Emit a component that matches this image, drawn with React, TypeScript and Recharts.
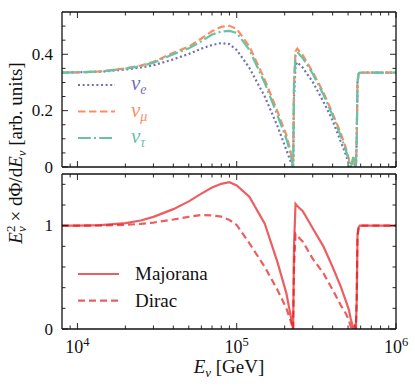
import { LineChart, Line, XAxis, YAxis, Legend } from 'recharts'

// energies in GeV (log axis)
const energies = [8000, 10000, 14000, 20000, 25000, 30000, 40000, 50000, 60000, 70000, 80000, 90000, 100000, 120000, 150000, 180000, 205000, 218000, 226000, 229000, 234000, 240000, 260000, 300000, 350000, 400000, 450000, 480000, 505000, 520000, 540000, 552000, 560000, 567000, 573000, 582000, 592000, 700000, 1000000]

// top panel: flux per flavour
const nuE = [0.335, 0.336, 0.338, 0.346, 0.353, 0.361, 0.382, 0.401, 0.42, 0.433, 0.44, 0.436, 0.415, 0.352, 0.25, 0.146, 0.06, 0.02, 0, 0.25, 0.36, 0.372, 0.352, 0.302, 0.232, 0.165, 0.09, 0.05, 0.012, 0, 0.035, 0.005, 0, 0.1, 0.3, 0.33, 0.335, 0.335, 0.335]
const nuMu = [0.335, 0.336, 0.339, 0.35, 0.36, 0.373, 0.405, 0.427, 0.456, 0.482, 0.497, 0.501, 0.49, 0.428, 0.31, 0.198, 0.113, 0.055, 0, 0.3, 0.41, 0.42, 0.397, 0.337, 0.265, 0.19, 0.12, 0.075, 0.03, 0, 0.035, 0.005, 0, 0.1, 0.3, 0.33, 0.335, 0.335, 0.335]
const nuTau = [0.335, 0.336, 0.339, 0.349, 0.358, 0.37, 0.4, 0.421, 0.446, 0.47, 0.481, 0.483, 0.476, 0.416, 0.298, 0.184, 0.1, 0.045, 0, 0.29, 0.398, 0.408, 0.386, 0.331, 0.257, 0.183, 0.11, 0.067, 0.025, 0, 0.035, 0.005, 0, 0.1, 0.3, 0.33, 0.335, 0.335, 0.335]

// bottom panel: total flux
const majorana = [1.0, 1.0, 1.006, 1.025, 1.05, 1.085, 1.16, 1.235, 1.31, 1.37, 1.405, 1.42, 1.39, 1.28, 1.02, 0.65, 0.345, 0.13, 0, 0.8, 1.21, 1.19, 1.14, 0.975, 0.8, 0.6, 0.41, 0.29, 0.19, 0.1, 0, 0.03, 0, 0.3, 0.9, 0.98, 1.0, 1.0, 1.0]
const dirac = [1.0, 1.0, 1.002, 1.008, 1.017, 1.03, 1.06, 1.085, 1.103, 1.1, 1.087, 1.055, 1.007, 0.83, 0.6, 0.38, 0.2, 0.08, 0, 0.6, 0.92, 0.9, 0.845, 0.68, 0.54, 0.38, 0.23, 0.16, 0.09, 0.02, 0, 0.03, 0, 0.3, 0.9, 0.98, 1.0, 1.0, 1.0]

const xMajorTicks = [10000, 100000, 1000000]
const xTicks = [9000, 10000, 20000, 30000, 40000, 50000, 60000, 70000, 80000, 90000, 100000, 200000, 300000, 400000, 500000, 600000, 700000, 800000, 900000, 1000000]
const topYTicks = [0, 0.05, 0.1, 0.15, 0.2, 0.25, 0.3, 0.35, 0.4, 0.45, 0.5]
const topYMajor = [0, 0.2, 0.4]
const bottomYTicks = [0, 0.2, 0.4, 0.6, 0.8, 1, 1.2, 1.4]
const bottomYMajor = [0, 1]

const flavourKeys = ['nuE', 'nuMu', 'nuTau']
const flavourSubs = ['e', 'μ', 'τ']
const flavourColors = ['#7570b3', '#fc8d62', '#66c2a5']
const flavourDashes = ['2 2.6', '7.5 3.5', '12.8 3.2 2 3.2']

const modelNames = ['Majorana', 'Dirac']
const modelDashes = ['', '7 4']
const RED = '#e41a1c'

const topData = energies.map((E, i) => ({ E, nuE: nuE[i], nuMu: nuMu[i], nuTau: nuTau[i] }))
const bottomData = energies.map((E, i) => ({ E, Majorana: majorana[i], Dirac: dirac[i] }))

const FONT = '"Liberation Serif", "Times New Roman", serif'
const INK = '#111'

function xTick(side: 'top' | 'bottom', showLabels: boolean) {
  return (props: any) => {
    const { x, y, payload } = props
    const v = payload.value
    const major = xMajorTicks.includes(v)
    const len = major ? 6 : 3.5
    const dir = side === 'bottom' ? -1 : 1
    return (
      <g>
        <line x1={x} x2={x} y1={y} y2={y + dir * len} stroke={INK} strokeWidth={0.9} />
        {showLabels && major ? (
          <text x={x} y={y + 24} textAnchor="middle" fontFamily={FONT} fontSize={18} fill={INK}>
            10<tspan dy={-7} fontSize={12.5}>{Math.round(Math.log10(v))}</tspan>
          </text>
        ) : null}
      </g>
    )
  }
}

function yTick(side: 'left' | 'right', majors: number[], showLabels: boolean) {
  return (props: any) => {
    const { x, y, payload } = props
    const v = payload.value
    const major = majors.includes(v)
    const len = major ? 6 : 3.5
    const dir = side === 'left' ? 1 : -1
    return (
      <g>
        <line x1={x} x2={x + dir * len} y1={y} y2={y} stroke={INK} strokeWidth={0.9} />
        {showLabels && major ? (
          <text x={x - 9} y={y} dy="0.34em" textAnchor="end" fontFamily={FONT} fontSize={17} fill={INK}>
            {String(v)}
          </text>
        ) : null}
      </g>
    )
  }
}

const axisLine = { stroke: INK, strokeWidth: 1.3 }

function FlavourLegend(props: any) {
  const payload = props.payload || []
  return (
    <svg width={110} height={80} style={{ overflow: 'visible' }}>
      {payload.map((entry: any) => {
        const k = flavourKeys.indexOf(entry.dataKey)
        const cy = 10 + k * 26.5
        return (
          <g key={entry.dataKey}>
            <line x1={2} x2={39} y1={cy} y2={cy} stroke={flavourColors[k]} strokeWidth={2.2} strokeDasharray={flavourDashes[k]} />
            <text x={55} y={cy + 5} fontFamily={FONT} fontSize={21} fontStyle="italic" fill={flavourColors[k]}>
              ν<tspan dy={4} fontSize={14}>{flavourSubs[k]}</tspan>
            </text>
          </g>
        )
      })}
    </svg>
  )
}

function ModelLegend(props: any) {
  const payload = props.payload || []
  return (
    <svg width={140} height={60} style={{ overflow: 'visible' }}>
      {payload.map((entry: any) => {
        const k = modelNames.indexOf(entry.value)
        const cy = 10 + k * 26.7
        return (
          <g key={entry.value}>
            <line x1={2} x2={43} y1={cy} y2={cy} stroke={RED} strokeOpacity={0.7} strokeWidth={2.2} strokeDasharray={modelDashes[k] || undefined} />
            <text x={59} y={cy + 6} fontFamily={FONT} fontSize={19} fill={INK}>
              {entry.value}
            </text>
          </g>
        )
      })}
    </svg>
  )
}

function XAxisTitle(props: any) {
  const vb = props.viewBox || { x: 62, y: 159, width: 334 }
  return (
    <text x={vb.x + vb.width / 2} y={vb.y + 44} textAnchor="middle" fontFamily={FONT} fontSize={19} fill={INK}>
      <tspan fontStyle="italic">E</tspan>
      <tspan dy={4} fontSize={13} fontStyle="italic">ν</tspan>
      <tspan dy={-4}> [GeV]</tspan>
    </text>
  )
}

// axes carry the margins: left 62, right 19
export default function App() {
  return (
    <div style={{ position: 'absolute', left: 0, top: 0, width: 415, height: 390, background: '#fff' }}>
      <div style={{ position: 'absolute', left: 0, top: 0 }}>
        <LineChart width={415} height={180} data={topData} margin={{ top: 0, right: 0, bottom: 0, left: 0 }}>
          <XAxis dataKey="E" xAxisId="b" type="number" scale="log" domain={[8000, 1000000]} allowDataOverflow ticks={xTicks} interval={0}
            height={13} tickSize={0} tickMargin={0} tickLine={false} axisLine={axisLine} tick={xTick('bottom', false)} />
          <XAxis dataKey="E" xAxisId="t" orientation="top" type="number" scale="log" domain={[8000, 1000000]} allowDataOverflow ticks={xTicks} interval={0}
            height={12} tickSize={0} tickMargin={0} tickLine={false} axisLine={axisLine} tick={xTick('top', false)} />
          <YAxis yAxisId="l" type="number" domain={[0, 0.55]} allowDataOverflow ticks={topYTicks} interval={0}
            width={62} tickSize={0} tickMargin={0} tickLine={false} axisLine={axisLine} tick={yTick('left', topYMajor, true)} />
          <YAxis yAxisId="r" orientation="right" type="number" domain={[0, 0.55]} allowDataOverflow ticks={topYTicks} interval={0}
            width={19} tickSize={0} tickMargin={0} tickLine={false} axisLine={axisLine} tick={yTick('right', topYMajor, false)} />
          <Legend layout="horizontal" verticalAlign="middle" align="center" wrapperStyle={{ left: 76, top: 75, width: 110 }} content={FlavourLegend} />
          {flavourKeys.map((k, i) => (
            <Line key={k} xAxisId="b" yAxisId="l" dataKey={k} type="linear" stroke={flavourColors[i]} strokeWidth={2.2}
              strokeDasharray={flavourDashes[i]} dot={false} activeDot={false} isAnimationActive={false} />
          ))}
        </LineChart>
      </div>
      <div style={{ position: 'absolute', left: 0, top: 170 }}>
        <LineChart width={415} height={220} data={bottomData} margin={{ top: 0, right: 0, bottom: 0, left: 0 }}>
          <XAxis dataKey="E" xAxisId="b" type="number" scale="log" domain={[8000, 1000000]} allowDataOverflow ticks={xTicks} interval={0}
            height={61} tickSize={0} tickMargin={0} tickLine={false} axisLine={axisLine} tick={xTick('bottom', true)} label={<XAxisTitle />} />
          <XAxis dataKey="E" xAxisId="t" orientation="top" type="number" scale="log" domain={[8000, 1000000]} allowDataOverflow ticks={xTicks} interval={0}
            height={4} tickSize={0} tickMargin={0} tickLine={false} axisLine={axisLine} tick={xTick('top', false)} />
          <YAxis yAxisId="l" type="number" domain={[0, 1.5]} allowDataOverflow ticks={bottomYTicks} interval={0}
            width={62} tickSize={0} tickMargin={0} tickLine={false} axisLine={axisLine} tick={yTick('left', bottomYMajor, true)} />
          <YAxis yAxisId="r" orientation="right" type="number" domain={[0, 1.5]} allowDataOverflow ticks={bottomYTicks} interval={0}
            width={19} tickSize={0} tickMargin={0} tickLine={false} axisLine={axisLine} tick={yTick('right', bottomYMajor, false)} />
          <Legend layout="horizontal" verticalAlign="middle" align="center" wrapperStyle={{ left: 76, top: 94, width: 140 }} content={ModelLegend} />
          {modelNames.map((name, i) => (
            <Line key={name} xAxisId="b" yAxisId="l" dataKey={name} name={name} type="linear" stroke={RED} strokeOpacity={0.7} strokeWidth={2.2}
              strokeDasharray={modelDashes[i] || undefined} dot={false} activeDot={false} isAnimationActive={false} />
          ))}
        </LineChart>
      </div>
      <svg width={415} height={390} style={{ position: 'absolute', left: 0, top: 0, pointerEvents: 'none' }}>
        <text transform="translate(22, 153) rotate(-90)" textAnchor="middle" fontFamily={FONT} fontSize={19} fill={INK}>
          <tspan fontStyle="italic">E</tspan>
          <tspan dy={-7} fontSize={13}>2</tspan>
          <tspan dx={-6.5} dy={11} fontSize={13} fontStyle="italic">ν</tspan>
          <tspan dy={-4}> × dΦ/d</tspan>
          <tspan fontStyle="italic">E</tspan>
          <tspan dy={4} fontSize={13} fontStyle="italic">ν</tspan>
          <tspan dy={-4}> [arb. units]</tspan>
        </text>
      </svg>
    </div>
  )
}
